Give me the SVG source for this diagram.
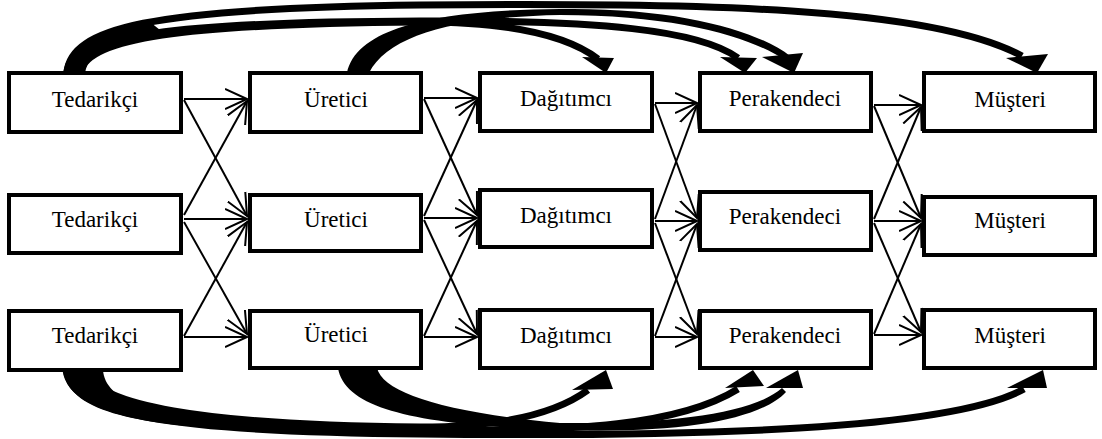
<svg xmlns="http://www.w3.org/2000/svg" width="1102" height="439" viewBox="0 0 1102 439">
  <style>
    .box { fill: #ffffff; stroke: #000000; stroke-width: 4; }
    .lbl { font-family: "Liberation Serif", "DejaVu Serif", serif; font-size: 23px; fill: #000000; text-anchor: middle; }
    .link { stroke: #000000; stroke-width: 2; fill: none; marker-end: url(#open); }
    .band { stroke: #000000; stroke-width: 7; fill: none; }
    .solid { fill: #000000; stroke: none; }
  </style>
  <defs>
    <marker id="open" markerUnits="userSpaceOnUse" markerWidth="24" markerHeight="24" viewBox="0 0 24 24" refX="22" refY="12" orient="auto">
      <path d="M0,2 L22,12 L0,22" fill="none" stroke="#000000" stroke-width="2"/>
    </marker>
  </defs>

  <!-- connectors -->
  <g id="connectors">
    <!-- upper bypass arcs -->
    <path class="solid" d="M63,73 C 68,45 95,30 150,22 L160,30 C 110,38 90,50 85,73 Z"/>
    <path class="band" d="M67,73 C 70,28 150,8 420,5 C 700,3 930,6 1022,56"/>
    <path class="band" d="M74,73 C 78,35 170,22 420,21 C 600,20 700,30 738,58"/>
    <path class="band" d="M80,73 C 86,38 180,24 420,22 C 490,22 560,30 598,59"/>
    <path class="solid" d="M347,73 C 357,25 445,10 560,9 C 680,7 760,32 790,56 L785,60 C 752,38 680,15 560,15 C 455,17 388,35 369,73 Z"/>
    <polygon class="solid" points="582,57 614,58 606,73"/>
    <polygon class="solid" points="720,57 757,58 745,73"/>
    <polygon class="solid" points="762,57 803,53 794,73"/>
    <polygon class="solid" points="1006,58 1048,54 1037,73"/>

    <!-- lower bypass arcs -->
    <path class="solid" d="M63,370 C 68,410 130,425 250,430 L250,423 C 150,418 105,400 103,370 Z"/>
    <path class="band" d="M66,370 C 72,415 170,432 420,434 C 700,437 950,430 1024,389"/>
    <path class="band" d="M76,370 C 84,410 190,428 420,430 C 580,432 680,425 738,389"/>
    <path class="band" d="M86,370 C 94,405 200,425 420,427 C 490,427 550,418 588,390"/>
    <path class="solid" d="M338,368 C 345,410 420,425 560,430 C 680,434 760,420 786,392 L782,388 C 755,412 680,424 560,423 C 440,412 383,392 377,368 Z"/>
    <polygon class="solid" points="572,390 613,389 606,370"/>
    <polygon class="solid" points="725,388 764,386 753,370"/>
    <polygon class="solid" points="766,388 803,388 798,370"/>
    <polygon class="solid" points="1007,388 1047,388 1043,370"/>

    <!-- Tedarikçi to Üretici -->
    <line class="link" x1="184" y1="99" x2="247" y2="99"/>
    <line class="link" x1="184" y1="100" x2="247" y2="216"/>
    <line class="link" x1="184" y1="215" x2="247" y2="101"/>
    <line class="link" x1="184" y1="219" x2="247" y2="219"/>
    <line class="link" x1="184" y1="222" x2="247" y2="334"/>
    <line class="link" x1="184" y1="336" x2="247" y2="222"/>
    <line class="link" x1="184" y1="337" x2="247" y2="337"/>

    <!-- Üretici to Dağıtımcı -->
    <line class="link" x1="424" y1="98" x2="477" y2="98"/>
    <line class="link" x1="424" y1="99" x2="477" y2="215"/>
    <line class="link" x1="424" y1="216" x2="477" y2="100"/>
    <line class="link" x1="424" y1="218" x2="477" y2="218"/>
    <line class="link" x1="424" y1="220" x2="477" y2="334"/>
    <line class="link" x1="424" y1="336" x2="477" y2="221"/>
    <line class="link" x1="424" y1="337" x2="477" y2="337"/>

    <!-- Dağıtımcı to Perakendeci -->
    <line class="link" x1="655" y1="103" x2="697" y2="103"/>
    <line class="link" x1="655" y1="104" x2="697" y2="218"/>
    <line class="link" x1="655" y1="219" x2="697" y2="105"/>
    <line class="link" x1="655" y1="221" x2="697" y2="221"/>
    <line class="link" x1="655" y1="223" x2="697" y2="334"/>
    <line class="link" x1="655" y1="336" x2="697" y2="224"/>
    <line class="link" x1="655" y1="337" x2="697" y2="337"/>

    <!-- Perakendeci to Müşteri -->
    <line class="link" x1="874" y1="105" x2="921" y2="105"/>
    <line class="link" x1="874" y1="106" x2="921" y2="218"/>
    <line class="link" x1="874" y1="219" x2="921" y2="107"/>
    <line class="link" x1="874" y1="221" x2="921" y2="221"/>
    <line class="link" x1="874" y1="223" x2="921" y2="332"/>
    <line class="link" x1="874" y1="334" x2="921" y2="224"/>
    <line class="link" x1="874" y1="335" x2="921" y2="335"/>
  </g>

  <!-- row 1 -->
  <g id="tedarikci-1"><rect class="box" x="9" y="73" width="172" height="59"/><text class="lbl" x="95" y="107" font-family="Liberation Serif, serif">Tedarikçi</text></g>
  <g id="uretici-1"><rect class="box" x="250" y="73" width="171" height="59"/><text class="lbl" x="336" y="107" font-family="Liberation Serif, serif">Üretici</text></g>
  <g id="dagitimci-1"><rect class="box" x="480" y="73" width="172" height="58"/><text class="lbl" x="566" y="106" font-family="Liberation Serif, serif">Dağıtımcı</text></g>
  <g id="perakendeci-1"><rect class="box" x="700" y="73" width="171" height="58"/><text class="lbl" x="785" y="106" font-family="Liberation Serif, serif">Perakendeci</text></g>
  <g id="musteri-1"><rect class="box" x="924" y="73" width="171" height="58"/><text class="lbl" x="1010" y="107" font-family="Liberation Serif, serif">Müşteri</text></g>

  <!-- row 2 -->
  <g id="tedarikci-2"><rect class="box" x="9" y="195" width="172" height="58"/><text class="lbl" x="95" y="227" font-family="Liberation Serif, serif">Tedarikçi</text></g>
  <g id="uretici-2"><rect class="box" x="250" y="195" width="171" height="56"/><text class="lbl" x="336" y="227" font-family="Liberation Serif, serif">Üretici</text></g>
  <g id="dagitimci-2"><rect class="box" x="480" y="190" width="172" height="57"/><text class="lbl" x="566" y="223" font-family="Liberation Serif, serif">Dağıtımcı</text></g>
  <g id="perakendeci-2"><rect class="box" x="700" y="192" width="171" height="58"/><text class="lbl" x="785" y="224" font-family="Liberation Serif, serif">Perakendeci</text></g>
  <g id="musteri-2"><rect class="box" x="924" y="197" width="171" height="58"/><text class="lbl" x="1010" y="228" font-family="Liberation Serif, serif">Müşteri</text></g>

  <!-- row 3 -->
  <g id="tedarikci-3"><rect class="box" x="9" y="311" width="172" height="59"/><text class="lbl" x="95" y="343" font-family="Liberation Serif, serif">Tedarikçi</text></g>
  <g id="uretici-3"><rect class="box" x="250" y="311" width="171" height="57"/><text class="lbl" x="336" y="342" font-family="Liberation Serif, serif">Üretici</text></g>
  <g id="dagitimci-3"><rect class="box" x="480" y="310" width="172" height="58"/><text class="lbl" x="566" y="343" font-family="Liberation Serif, serif">Dağıtımcı</text></g>
  <g id="perakendeci-3"><rect class="box" x="700" y="311" width="171" height="57"/><text class="lbl" x="785" y="343" font-family="Liberation Serif, serif">Perakendeci</text></g>
  <g id="musteri-3"><rect class="box" x="924" y="310" width="171" height="58"/><text class="lbl" x="1010" y="343" font-family="Liberation Serif, serif">Müşteri</text></g>
</svg>
